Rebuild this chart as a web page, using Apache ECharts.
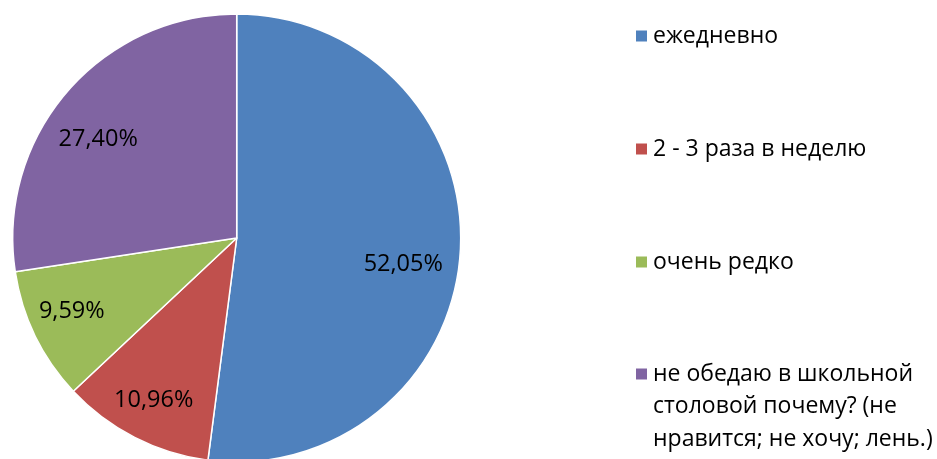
<!DOCTYPE html>
<html>
<head>
<meta charset="utf-8">
<script src="https://cdn.jsdelivr.net/npm/echarts@6/dist/echarts.min.js"></script>
<style>
html,body{margin:0;padding:0;background:#fff;}
#chart{width:937px;height:459px;}
</style>
</head>
<body>
<div id="chart"></div>
<script>
const categories = [
  'ежедневно',
  '2 - 3 раза в неделю',
  'очень редко',
  'не обедаю в школьной столовой почему? (не нравится; не хочу; лень.)'
];
const legendLines = [
  'ежедневно',
  '2 - 3 раза в неделю',
  'очень редко',
  '\n\nне обедаю в школьной\nстоловой почему? (не\nнравится; не хочу; лень.)'
];
const values = [52.05, 10.96, 9.59, 27.40];
const labels = ['52,05%', '10,96%', '9,59%', '27,40%'];
const colors = ['#4F81BD', '#C0504D', '#9BBB59', '#8064A2'];
const labelNudge = [[-13, 15], [-1, 2], [-3, -5], [-2, 19]];

const FONT = '"Open Sans", "Noto Sans", sans-serif';
const chart = echarts.init(document.getElementById('chart'), null, {renderer: 'canvas'});

const pieData = categories.map((c, i) => ({name: c, value: values[i], itemStyle: {color: colors[i]}}));
const labelData = categories.map((c, i) => ({name: c, value: values[i]}));

const L = 32.5;
const legendTops = [36 - L / 2, 149 - L / 2, 262 - L / 2, 374 - 2.5 * L];
const legends = categories.map((c, i) => ({
  data: [c],
  orient: 'vertical',
  left: 634,
  top: legendTops[i],
  padding: 0,
  itemWidth: 13,
  itemHeight: 13,
  icon: 'rect',
  selectedMode: false,
  formatter: () => legendLines[i],
  textStyle: {
    fontFamily: FONT,
    fontSize: 23,
    color: '#000',
    lineHeight: L
  }
}));

chart.setOption({
  animation: false,
  color: colors,
  legend: legends,
  series: [
    {
      type: 'pie',
      center: [236.7, 238],
      radius: 224,
      startAngle: 90,
      clockwise: true,
      silent: true,
      label: {show: false},
      labelLine: {show: false},
      itemStyle: {borderColor: '#fff', borderWidth: 1.5},
      data: pieData
    },
    {
      type: 'pie',
      center: [236.7, 238],
      radius: 224 * 0.79 * 2,
      startAngle: 90,
      clockwise: true,
      silent: true,
      legendHoverLink: false,
      itemStyle: {color: 'rgba(0,0,0,0)', borderWidth: 0},
      emphasis: {disabled: true},
      label: {
        show: true,
        position: 'inside',
        formatter: p => labels[p.dataIndex],
        fontFamily: FONT,
        fontSize: 23.5,
        color: '#000'
      },
      labelLine: {show: false},
      labelLayout: p => ({dx: labelNudge[p.dataIndex][0], dy: labelNudge[p.dataIndex][1]}),
      data: labelData
    }
  ]
});
</script>
</body>
</html>
